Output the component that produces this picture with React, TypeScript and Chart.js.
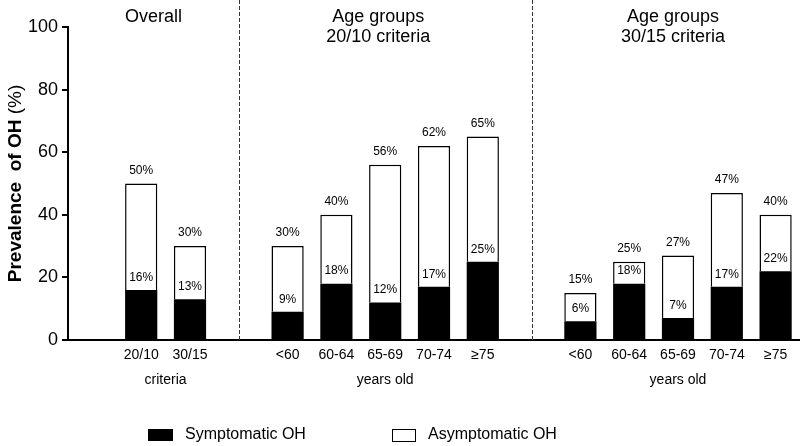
import React, { useEffect, useRef } from "react";
import { Chart, registerables } from "chart.js";

Chart.register(...registerables);

const categories = ["", "20/10", "30/15", "", "<60", "60-64", "65-69", "70-74", "≥75", "", "<60", "60-64", "65-69", "70-74", "≥75"];
const symptomatic: (number | null)[] = [null, 16, 13, null, 9, 18, 12, 17, 25, null, 6, 18, 7, 17, 22];
const totals: (number | null)[] = [null, 50, 30, null, 30, 40, 56, 62, 65, null, 15, 25, 27, 47, 40];
const asymptomatic: (number | null)[] = totals.map((t, i) => (t == null ? null : t - (symptomatic[i] as number)));
const yTicks = [0, 20, 40, 60, 80, 100];
const separatorSlots = [3, 9];
const FONT = "'Liberation Sans', Arial, sans-serif";

const overlay = {
  id: "overlay",
  afterDatasetsDraw(chart: any) {
    const ctx = chart.ctx;
    const x = chart.scales.x;
    const area = chart.chartArea;
    const m0 = chart.getDatasetMeta(0);
    const m1 = chart.getDatasetMeta(1);
    ctx.save();
    ctx.fillStyle = "#000";
    ctx.textAlign = "center";
    ctx.textBaseline = "middle";
    ctx.font = `12px ${FONT}`;
    for (let i = 0; i < categories.length; i++) {
      if (totals[i] == null) continue;
      const sEl = m0.data[i];
      const aEl = m1.data[i];
      ctx.fillText(`${totals[i]}%`, aEl.x, aEl.y - 13);
      ctx.fillText(`${symptomatic[i]}%`, sEl.x, sEl.y - 12.5);
    }
    // separators
    ctx.strokeStyle = "#333";
    ctx.lineWidth = 1;
    ctx.setLineDash([4, 2]);
    const seps = separatorSlots.map((s) => x.getPixelForValue(s));
    seps.forEach((px) => {
      ctx.beginPath();
      ctx.moveTo(Math.round(px) + 0.5, 0);
      ctx.lineTo(Math.round(px) + 0.5, area.bottom);
      ctx.stroke();
    });
    ctx.setLineDash([]);
    // group titles
    ctx.font = `18px ${FONT}`;
    ctx.fillText("Overall", (area.left + seps[0]) / 2, 17);
    const g2 = x.getPixelForValue(6) - 7;
    ctx.fillText("Age groups", g2, 17);
    ctx.fillText("20/10 criteria", g2, 37);
    const g3 = x.getPixelForValue(12) - 5;
    ctx.fillText("Age groups", g3, 17);
    ctx.fillText("30/15 criteria", g3, 37);
    // axis sub-labels
    ctx.font = `14px ${FONT}`;
    ctx.fillText("criteria", (x.getPixelForValue(1) + x.getPixelForValue(2)) / 2, 380);
    ctx.fillText("years old", x.getPixelForValue(6), 380);
    ctx.fillText("years old", x.getPixelForValue(12), 380);
    // y title
    ctx.save();
    ctx.translate(16, (area.top + area.bottom) / 2);
    ctx.rotate(-Math.PI / 2);
    ctx.font = `bold 19px ${FONT}`;
    const p1 = "Prevalence  of OH ";
    const w1 = ctx.measureText(p1).width;
    ctx.font = `19px ${FONT}`;
    const p2 = "(%)";
    const w2 = ctx.measureText(p2).width;
    const start = -(w1 + w2) / 2;
    ctx.textAlign = "left";
    ctx.font = `bold 19px ${FONT}`;
    ctx.fillText(p1, start, 0);
    ctx.font = `19px ${FONT}`;
    ctx.fillText(p2, start + w1, 0);
    ctx.restore();
    // legend
    ctx.font = `16px ${FONT}`;
    ctx.textAlign = "left";
    ctx.fillStyle = "#000";
    ctx.fillRect(148, 429, 25, 12);
    ctx.fillText("Symptomatic OH", 185, 435);
    ctx.fillStyle = "#fff";
    ctx.fillRect(392, 429, 23, 12);
    ctx.strokeStyle = "#000";
    ctx.lineWidth = 1;
    ctx.strokeRect(392.5, 429.5, 23, 12);
    ctx.fillStyle = "#000";
    ctx.fillText("Asymptomatic OH", 428, 435);
    ctx.restore();
  },
};

export default function App() {
  const ref = useRef<HTMLCanvasElement | null>(null);
  useEffect(() => {
    if (!ref.current) return;
    const chart = new Chart(ref.current, {
      type: "bar",
      data: {
        labels: categories,
        datasets: [
          {
            label: "Symptomatic OH",
            data: symptomatic as any,
            backgroundColor: "#000",
            borderColor: "#000",
            borderWidth: 0,
            barPercentage: 0.66,
            categoryPercentage: 1,
          },
          {
            label: "Asymptomatic OH",
            data: asymptomatic as any,
            backgroundColor: "#fff",
            borderColor: "#000",
            borderWidth: 1.5,
            barPercentage: 0.66,
            categoryPercentage: 1,
          },
        ],
      },
      options: {
        animation: false,
        responsive: false,
        maintainAspectRatio: false,
        layout: { padding: { top: 27, left: 0, right: 0, bottom: 0 } },
        plugins: { legend: { display: false }, tooltip: { enabled: false } },
        scales: {
          x: {
            stacked: true,
            offset: true,
            grid: { display: false, drawTicks: false },
            border: { display: true, color: "#000", width: 2 },
            ticks: { color: "#000", font: { family: FONT, size: 14 }, padding: 7, maxRotation: 0, autoSkip: false },
            afterFit: (s: any) => {
              s.height = 106;
            },
          },
          y: {
            stacked: true,
            min: 0,
            max: 100,
            afterBuildTicks: (s: any) => {
              s.ticks = yTicks.map((v) => ({ value: v }));
            },
            grid: { drawOnChartArea: false, drawTicks: true, tickLength: 6, color: "#000", lineWidth: 2 },
            border: { display: true, color: "#000", width: 2 },
            ticks: { color: "#000", font: { family: FONT, size: 18 }, padding: 4 },
            afterFit: (s: any) => {
              s.width = 68;
            },
          },
        },
      },
      plugins: [overlay],
    });
    return () => chart.destroy();
  }, []);
  return (
    <div style={{ position: "fixed", left: 0, top: 0, width: 800, height: 446, background: "#fff" }}>
      <canvas ref={ref} width={800} height={446} style={{ width: 800, height: 446 }} />
    </div>
  );
}
